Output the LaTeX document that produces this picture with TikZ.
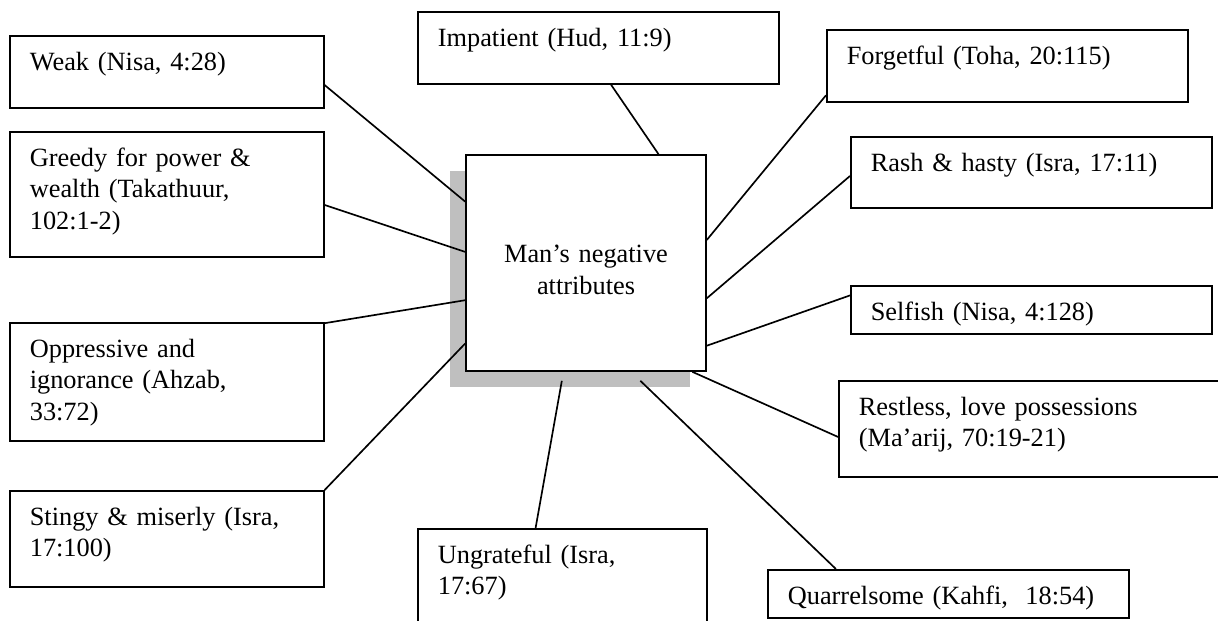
\documentclass[tikz,border=0pt]{standalone}
\usepackage{fontspec}
\setmainfont{Liberation Serif}
\usepackage{tikz}
\usetikzlibrary{calc,shadows}
\definecolor{shadegray}{gray}{0.75}
\newcommand{\lw}{0.75pt}

\begin{document}
\begin{tikzpicture}[x=0.45pt,y=-0.45pt,
  attr/.style 2 args={draw,line width=\lw,anchor=north west,align=left,
    inner xsep=9pt,inner ysep=0pt,text height=15.75pt,
    text width=#1,text depth=#2,font=\fontsize{11.85}{14}\selectfont},
  core/.style={draw,line width=\lw,fill=white,align=center,
    inner sep=0pt,text width=108pt,text height=48.6pt,text depth=48.6pt,
    font=\fontsize{11.85}{14}\selectfont,
    drop shadow={shadow xshift=-7.2pt,shadow yshift=-7.2pt,fill=shadegray,opacity=1}},
  link/.style={line width=\lw}]
\useasboundingbox (0,0) rectangle (1218,621);

% centre
\node[core] (man) at (586,263) {Man’s negative\\ attributes};

% left column
\node[attr={123.3pt}{16.65pt}] (weak) at (9,35) {Weak (Nisa, 4:28)};
\node[attr={123.3pt}{40.5pt}] (greedy) at (9,131) {Greedy for power \&\\ wealth (Takathuur,\\ 102:1-2)};
\node[attr={123.3pt}{37.35pt}] (oppress) at (9,322) {Oppressive and\\ ignorance (Ahzab,\\ 33:72)};
\node[attr={123.3pt}{27.45pt}] (stingy) at (9,490) {Stingy \& miserly (Isra,\\ 17:100)};

% top and bottom
\node[attr={144.45pt}{16.65pt}] (impatient) at (417,11) {Impatient (Hud, 11:9)};
\node[attr={112.05pt}{38.25pt}] (ungrateful) at (417,528) {Ungrateful (Isra,\\ 17:67)};

% right column
\node[attr={144.45pt}{16.65pt}] (forget) at (826,29) {Forgetful (Toha, 20:115)};
\node[attr={144.45pt}{16.2pt}] (rash) at (850,136) {Rash \& hasty (Isra, 17:11)};
\node[attr={144.45pt}{5.85pt}] (selfish) at (850,285) {Selfish (Nisa, 4:128)};
\node[attr={171pt}{27.45pt}] (restless) at (838,380) {Restless, love possessions\\ (Ma’arij, 70:19-21)};
\node[attr={144.45pt}{5.85pt}] (quarrel) at (767,569) {Quarrelsome (Kahfi,~ 18:54)};

% spokes
\draw[link] ($(weak.north east)!0.68!(weak.south east)$) -- ($(man.north west)!0.218!(man.south west)$);
\draw[link] ($(greedy.north east)!0.584!(greedy.south east)$) -- ($(man.north west)!0.449!(man.south west)$);
\draw[link] ($(oppress.north east)!0.01!(oppress.south east)$) -- ($(man.north west)!0.671!(man.south west)$);
\draw[link] (stingy.north east) -- ($(man.north west)!0.87!(man.south west)$);
\draw[link] ($(impatient.south west)!0.535!(impatient.south east)$) -- ($(man.north west)!0.8!(man.north east)$);
\draw[link] ($(forget.north west)!0.9!(forget.south west)$) -- ($(man.north east)!0.394!(man.south east)$);
\draw[link] ($(rash.north west)!0.55!(rash.south west)$) -- ($(man.north east)!0.662!(man.south east)$);
\draw[link] ($(selfish.north west)!0.21!(selfish.south west)$) -- ($(man.north east)!0.88!(man.south east)$);
\draw[link] ($(restless.north west)!0.583!(restless.south west)$) -- ($(man.south west)!0.94!(man.south east)$);
\draw[link] ($(quarrel.north west)!0.19!(quarrel.north east)$) -- ($(man.south west)!0.725!(man.south east)+(0,9)$);
\draw[link] ($(ungrateful.north west)!0.408!(ungrateful.north east)$) -- ($(man.south west)!0.4!(man.south east)+(0,9)$);
\end{tikzpicture}
\end{document}
